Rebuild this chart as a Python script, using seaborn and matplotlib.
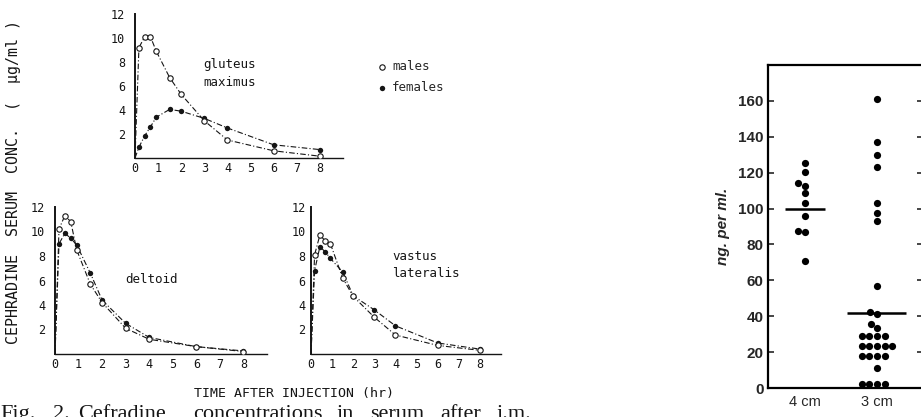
import matplotlib
matplotlib.use("Agg")
import matplotlib.pyplot as plt
import numpy as np
import pandas as pd
import seaborn as sns

# sampling times (hr) shared by the three injection sites
times = [0.17, 0.42, 0.67, 0.92, 1.5, 2, 3, 4, 6, 8]

# cephradine serum conc. (ug/ml)
glut_males = [9.2, 10.1, 10.1, 8.9, 6.7, 5.3, 3.1, 1.5, 0.6, 0.15]
glut_females = [0.9, 1.85, 2.6, 3.4, 4.05, 3.9, 3.3, 2.5, 1.1, 0.7]
delt_males = [10.2, 11.3, 10.8, 8.5, 5.7, 4.2, 2.1, 1.2, 0.6, 0.2]
delt_females = [9.0, 9.85, 9.45, 8.9, 6.6, 4.4, 2.5, 1.35, 0.6, 0.25]
vast_males = [8.1, 9.7, 9.25, 9.0, 6.2, 4.7, 3.0, 1.55, 0.7, 0.3]
vast_females = [6.8, 8.75, 8.35, 7.8, 6.7, 4.75, 3.6, 2.3, 0.9, 0.4]

conc_ticks = [2, 4, 6, 8, 10, 12]
hour_ticks = [0, 1, 2, 3, 4, 5, 6, 7, 8]

# right hand panel: ng per ml by distance
depths = ["4 cm", "3 cm"]
ng_4cm = [125.5, 120.3, 114.3, 112.5, 108.4, 103.2, 95.7, 87.7, 87.0, 70.8]
ng_3cm = [161.3, 137.1, 129.7, 123.2, 103.3, 97.8, 92.9, 56.7, 42.4, 41.2,
          35.9, 33.5, 28.8, 28.8, 28.8, 28.8, 23.4, 23.4, 23.4, 23.4, 23.4,
          17.9, 17.9, 17.9, 17.9, 11.2, 2, 2, 2, 2]
group_means = [100, 42]
ng_ticks = [0, 20, 40, 60, 80, 100, 120, 140, 160]

W, H = 921, 417
fig = plt.figure(figsize=(W / 100, H / 100), dpi=100)
sns.set_style("white")
plt.rcParams["font.family"] = ["DejaVu Sans Mono", "DejaVu Sans"]
ink = "#151515"


def px_axes(left, bottom, right, top):
    # pixel box (from top-left) -> figure axes
    return fig.add_axes([left / W, 1 - bottom / H, (right - left) / W, (bottom - top) / H])


def pk_panel(ax, males, females, label, label_xy, ypad):
    dash = (0, (5, 2, 1, 2))
    for vals in (males, females):
        line = pd.DataFrame({"t": [0] + times, "c": [0] + vals})
        sns.lineplot(data=line, x="t", y="c", ax=ax, color=ink, lw=0.8,
                     linestyle=dash, estimator=None, errorbar=None, sort=False)
    sns.scatterplot(x=times, y=females, ax=ax, color=ink, s=15, linewidth=0,
                    label="females", zorder=4)
    sns.scatterplot(x=times, y=males, ax=ax, facecolor="white", edgecolor=ink,
                    s=15, linewidth=0.8, label="males", zorder=5)
    ax.set_xlim(0, 9)
    ax.set_ylim(0, 12)
    ax.set_xticks(hour_ticks)
    ax.set_yticks(conc_ticks)
    ax.tick_params(length=0, labelsize=8.5, colors=ink)
    ax.tick_params(axis="y", pad=ypad)
    ax.tick_params(axis="x", pad=3)
    ax.set_xlabel("")
    ax.set_ylabel("")
    for s in ("top", "right"):
        ax.spines[s].set_visible(False)
    ax.spines["left"].set_linewidth(1.4)
    ax.spines["bottom"].set_linewidth(1.0)
    for s in ("left", "bottom"):
        ax.spines[s].set_color(ink)
    ax.text(*label_xy, label, ha="left", va="top", fontsize=9, color=ink,
            linespacing=1.45)
    ax.patch.set_alpha(0)


ax_g = px_axes(135, 158, 343, 14)
pk_panel(ax_g, glut_males, glut_females, "gluteus\nmaximus", (2.95, 8.3), 7)
handles, labels = ax_g.get_legend_handles_labels()
ax_g.legend(handles[::-1], labels[::-1], loc="upper left",
            bbox_to_anchor=(377 / W, 1 - 60 / H), bbox_transform=fig.transFigure,
            frameon=False, fontsize=9, handlelength=0.8, handletextpad=0.4,
            borderpad=0, borderaxespad=0, labelspacing=0.65)

ax_d = px_axes(55, 354, 267, 207)
pk_panel(ax_d, delt_males, delt_females, "deltoid", (3.0, 6.6), 7)
ax_d.get_legend().remove()

ax_v = px_axes(311, 354, 501, 207)
pk_panel(ax_v, vast_males, vast_females, "vastus\nlateralis", (3.85, 8.5), 4)
ax_v.get_legend().remove()

fig.text(14 / W, 1 - 182 / H, "CEPHRADINE  SERUM  CONC.  (  \u00b5g/ml )",
         rotation=90, ha="center", va="center", fontsize=10.8, color=ink)
fig.text(294 / W, 1 - 393 / H, "TIME AFTER INJECTION (hr)", ha="center",
         va="center", fontsize=9.5, color=ink)

# caption, only its top half made it onto the scan
caption = [("Fig.", 0), ("2.", 53), ("Cefradine", 78), ("concentrations", 193),
           ("in", 337), ("serum", 370), ("after", 440), ("i.m.", 497)]
for word, x in caption:
    fig.text(x / W, 1 - 419 / H, word, ha="left", va="baseline", fontsize=16,
             family="Liberation Serif", color=ink)

# right panel
ng = pd.DataFrame({"depth": ["4 cm"] * len(ng_4cm) + ["3 cm"] * len(ng_3cm),
                   "ng": ng_4cm + ng_3cm})
ax_r = px_axes(768, 388, 923, 65)
sns.swarmplot(data=ng, x="depth", y="ng", order=depths, color="black", size=5.2,
              ax=ax_r, clip_on=False, zorder=3)
half = [0.28, 0.41]
for i, m in enumerate(group_means):
    ax_r.hlines(m, i - half[i], i + half[i], color="black", lw=1.8, zorder=2)
ax_r.set_xlim(-0.514, 1.64)
ax_r.set_ylim(0, 180)
ax_r.set_yticks(ng_ticks)
ax_r.tick_params(axis="y", direction="in", length=4, width=1.2, right=True,
                 left=True, pad=3, labelsize=11)
ax_r.tick_params(axis="x", direction="in", length=2, width=1, pad=5, labelsize=10.5)
for lab in ax_r.get_yticklabels():
    lab.set_fontweight("bold")
    lab.set_family("Liberation Sans")
for lab in ax_r.get_xticklabels():
    lab.set_family("Liberation Sans")
ax_r.set_xlabel("")
ax_r.set_ylabel("ng. per ml.", fontsize=11, fontstyle="italic", fontweight="bold",
                family="Liberation Sans", labelpad=6)
for s in ax_r.spines.values():
    s.set_visible(True)
    s.set_linewidth(1.6)
    s.set_color("black")

fig.savefig("out.png", dpi=100)
